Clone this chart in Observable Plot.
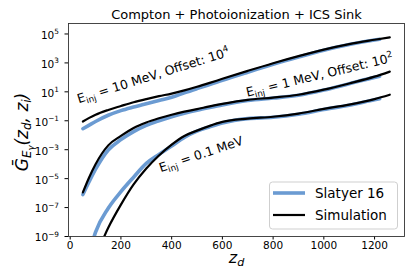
<!DOCTYPE html>
<html><head><meta charset="utf-8">
<script src="https://cdn.jsdelivr.net/npm/d3@7"></script>
<script src="https://cdn.jsdelivr.net/npm/@observablehq/plot@0.6"></script>
<style>
html,body{margin:0;padding:0;background:#fff;}
#chart svg{display:block;}
</style></head><body><div id="chart"></div>
<script>
// ---- data (log10 of G-bar, offsets already included as in the figure) ----
const seriesNames = ["Slatyer 16", "Simulation"];
const seriesColors = ["#6b9bd2", "#000000"];
const seriesWidths = [3.6, 2.2];
const energies = ["10 MeV", "1 MeV", "0.1 MeV"];

const zSlatyer    = [50, 75, 100, 150, 200, 250, 300, 350, 400, 450, 500, 550, 600, 700, 800, 900, 1000, 1100, 1200, 1220];
const zSim        = [50, 75, 100, 150, 200, 250, 300, 350, 400, 450, 500, 550, 600, 700, 800, 900, 1000, 1100, 1200, 1260];
const zSlatyerLow = [75, 100, 150, 200, 250, 300, 350, 400, 450, 500, 550, 600, 700, 800, 900, 1000, 1100, 1200, 1220];
const zSimLow     = [100, 150, 200, 250, 300, 350, 400, 450, 500, 550, 600, 700, 800, 900, 1000, 1100, 1200, 1260];

const slatyer10 = [-1.55, -1.3, -1.05, -0.62, -0.3, -0.05, 0.18, 0.4, 0.62, 0.93, 1.22, 1.5, 1.8, 2.36, 2.9, 3.4, 3.87, 4.27, 4.58, 4.63];
const sim10     = [-1.05, -0.8, -0.58, -0.25, 0.02, 0.28, 0.5, 0.7, 0.88, 1.1, 1.35, 1.62, 1.9, 2.45, 2.98, 3.47, 3.92, 4.3, 4.6, 4.77];
const slatyer1  = [-6.1, -5.2, -4.35, -3.02, -2.3, -1.75, -1.32, -1.0, -0.72, -0.48, -0.27, -0.08, 0.1, 0.4, 0.57, 0.76, 1.12, 1.56, 2.0, 2.08];
const sim1      = [-5.95, -4.9, -4.0, -2.7, -2.05, -1.5, -1.12, -0.83, -0.58, -0.37, -0.2, 0.0, 0.17, 0.45, 0.6, 0.8, 1.15, 1.58, 2.05, 2.4];
const slatyer01 = [-10.2, -8.7, -7.05, -5.9, -4.9, -3.95, -3.33, -2.75, -2.15, -1.72, -1.42, -1.15, -0.85, -0.76, -0.55, -0.22, 0.08, 0.45, 0.52];
const sim01     = [-10.4, -8.4, -6.8, -5.4, -4.3, -3.4, -2.65, -2.05, -1.68, -1.35, -1.08, -0.85, -0.72, -0.5, -0.18, 0.12, 0.5, 0.8];

const xTicks = [0, 200, 400, 600, 800, 1000, 1200];
const yTickExps = [-9, -7, -5, -3, -1, 1, 3, 5];

const titleText = "Compton + Photoionization + ICS Sink";
const xLabel = "z_{d}";
const yLabel = "Ḡ_{E}~{γ}(z_{d}, z_{i})";

const curveLabels = [
  {z: 34, g: 1.6, angle: -17.5, text: "E_{inj} = 10 MeV, Offset: 10^{4}"},
  {z: 698, g: 4.6, angle: -13.5, text: "E_{inj} = 1 MeV, Offset: 10^{2}"},
  {z: 357, g: 2.8e-5, angle: -18.5, text: "E_{inj} = 0.1 MeV"}
];

// ---- build tables ----
const build = (zs, logs, series, energy) => zs.map((z, i) => ({z, g: 10 ** logs[i], series, energy}));
const slatyerRows = [
  ...build(zSlatyer, slatyer10, seriesNames[0], energies[0]),
  ...build(zSlatyer, slatyer1, seriesNames[0], energies[1]),
  ...build(zSlatyerLow, slatyer01, seriesNames[0], energies[2])
];
const simRows = [
  ...build(zSim, sim10, seriesNames[1], energies[0]),
  ...build(zSim, sim1, seriesNames[1], energies[1]),
  ...build(zSimLow, sim01, seriesNames[1], energies[2])
];
const yTicks = yTickExps.map(e => 10 ** e);
const fmtPow = d => {
  const e = Math.round(Math.log10(d));
  return "10^{" + (e < 0 ? "\u2212" + (-e) : e) + "}";
};

const plot = Plot.plot({
  width: 415, height: 277,
  marginLeft: 68, marginRight: 11, marginTop: 23, marginBottom: 41,
  style: {fontFamily: "DejaVu Sans", fontSize: "10.5px", color: "#000", background: "#fff", overflow: "visible"},
  x: {domain: [-6.7, 1318], ticks: xTicks, tickFormat: d => String(d), tickSize: 3.5, tickPadding: 2, label: null},
  y: {type: "log", domain: [1e-9, 5.3e5], ticks: yTicks, tickFormat: fmtPow, tickSize: 3.5, tickPadding: 6, label: null},
  marks: [
    Plot.line(slatyerRows, {x: "z", y: "g", z: "energy", stroke: seriesColors[0], strokeWidth: seriesWidths[0], curve: "monotone-x", clip: true}),
    Plot.line(simRows, {x: "z", y: "g", z: "energy", stroke: seriesColors[1], strokeWidth: seriesWidths[1], curve: "monotone-x", clip: true}),
    Plot.text(curveLabels, {x: "z", y: "g", text: "text", rotate: "angle", textAnchor: "start", lineAnchor: "bottom", fontSize: 12.5}),
    Plot.text([titleText], {text: d => d, frameAnchor: "top", dy: -5, lineAnchor: "bottom", fontSize: 13}),
    Plot.text([xLabel], {text: d => d, frameAnchor: "bottom", dy: 26, lineAnchor: "bottom", fontSize: 16, fontStyle: "italic"}),
    Plot.text([yLabel], {text: d => d, frameAnchor: "left", dx: -41, dy: 2, rotate: -90, textAnchor: "middle", lineAnchor: "bottom", fontSize: 17, fontStyle: "italic"}),
    Plot.frame({stroke: "#333", strokeWidth: 0.9})
  ]
});
document.getElementById("chart").appendChild(plot);

// ---- rich text (sub/superscripts) ----
const SVGNS = "http://www.w3.org/2000/svg";
function richify(el, baseDy) {
  const s = el.textContent;
  if (!/[_^~]\{/.test(s)) return;
  const fs = parseFloat(getComputedStyle(el).fontSize) || 10;
  const parts = [];
  let buf = "", i = 0;
  while (i < s.length) {
    const c = s[i];
    if ((c === "_" || c === "^" || c === "~") && s[i + 1] === "{") {
      if (buf) parts.push([buf, 0]);
      buf = "";
      const end = s.indexOf("}", i);
      parts.push([s.slice(i + 2, end), c === "_" ? -1 : c === "^" ? 1 : -2]);
      i = end + 1;
    } else { buf += c; i++; }
  }
  if (buf) parts.push([buf, 0]);
  const shift = {"0": 0, "1": -0.42, "-1": 0.22, "-2": 0.4};
  const scale = {"0": 1, "1": 0.7, "-1": 0.7, "-2": 0.5};
  while (el.firstChild) el.removeChild(el.firstChild);
  let cur = 0;
  parts.forEach(([t, lvl], k) => {
    const ts = document.createElementNS(SVGNS, "tspan");
    const target = shift[lvl] * fs;
    let dy = target - cur + (k === 0 ? baseDy : 0);
    if (dy !== 0) ts.setAttribute("dy", dy.toFixed(2));
    ts.setAttribute("font-size", (scale[lvl] * fs).toFixed(2));
    ts.textContent = t;
    el.appendChild(ts);
    cur = target;
  });
}
const svg = d3.select(plot);
svg.selectAll('g[aria-label="y-axis tick label"] text').each(function () { richify(this, 1.5); });
svg.selectAll("text").each(function () { richify(this, 0); });

// ---- legend ----
const legend = svg.append("g").attr("font-family", "DejaVu Sans").attr("font-size", 13.5).attr("text-anchor", "start");
legend.append("rect").attr("x", 269.5).attr("y", 182).attr("width", 128).attr("height", 47).attr("rx", 3)
  .attr("fill", "#fff").attr("fill-opacity", 0.8).attr("stroke", "#cfcfcf");
seriesNames.forEach((name, i) => {
  const y = 193 + i * 22;
  legend.append("line").attr("x1", 273).attr("x2", 305).attr("y1", y).attr("y2", y)
    .attr("stroke", seriesColors[i]).attr("stroke-width", seriesWidths[i]);
  legend.append("text").attr("x", 315).attr("y", y).attr("dy", "0.35em").attr("text-anchor", "start").attr("fill", "#000").text(name);
});
</script>
</body></html>
